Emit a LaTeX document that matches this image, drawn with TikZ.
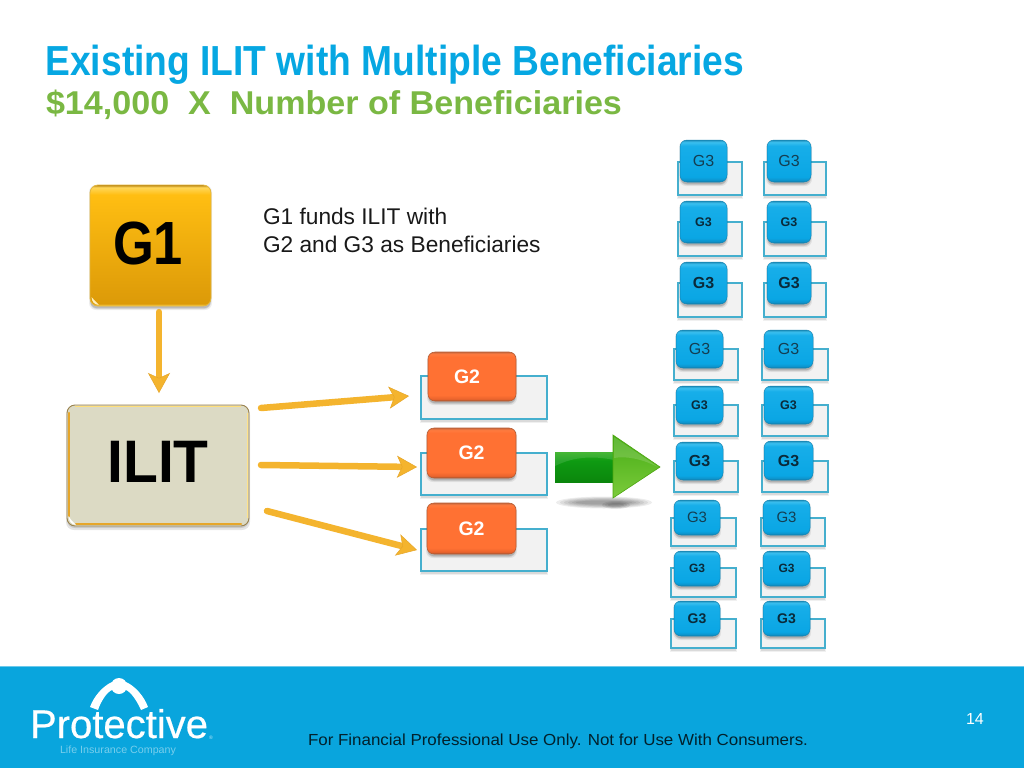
\documentclass[tikz,border=0pt]{standalone}
\usepackage{fontspec}
\setmainfont{Liberation Sans}
\newfontfamily\logofont[FakeBold=0.5]{Liberation Sans}
\usetikzlibrary{arrows.meta,calc,fit}
\definecolor{titleblue}{HTML}{06A7E2}
\definecolor{subgreen}{HTML}{7AB843}
\definecolor{band}{HTML}{09A5DD}
\definecolor{cardedge}{HTML}{45AFCE}
\definecolor{goldshaft}{HTML}{F4B42E}
\definecolor{goldedge}{HTML}{E6A62A}
\definecolor{gthreetext}{HTML}{143E52}
\definecolor{gthreebold}{HTML}{0A2A3A}
\definecolor{ilitfill}{HTML}{DCDAC4}
\definecolor{bd1}{HTML}{1678A2}\definecolor{bd2}{HTML}{0D93CB}\definecolor{bd3}{HTML}{0AA6E4}
\definecolor{bd4}{HTML}{17AEE9}\definecolor{bd5}{HTML}{3CC0F0}\definecolor{bd6}{HTML}{1D8DB8}
\pgfdeclareverticalshading{blueglass}{100bp}{color(0bp)=(bd1); color(25bp)=(bd1); color(27bp)=(bd2);
  color(31bp)=(bd3); color(68bp)=(bd4); color(72.5bp)=(bd5); color(75bp)=(bd6); color(100bp)=(bd6)}
\definecolor{or1}{HTML}{9C5433}\definecolor{or2}{HTML}{E9632C}\definecolor{or3}{HTML}{FF7133}
\definecolor{or4}{HTML}{FF7B3F}\definecolor{or5}{HTML}{C8693F}
\pgfdeclareverticalshading{orangeglass}{100bp}{color(0bp)=(or1); color(25bp)=(or1); color(27bp)=(or2);
  color(31bp)=(or3); color(70bp)=(or3); color(73bp)=(or4); color(75bp)=(or5); color(100bp)=(or5)}
\definecolor{go1}{HTML}{B98412}\definecolor{go2}{HTML}{DC9A08}\definecolor{go3}{HTML}{FFBE12}
\definecolor{go4}{HTML}{FFD75A}
\pgfdeclareverticalshading{goldglass}{100bp}{color(0bp)=(go4); color(25bp)=(go4); color(26bp)=(go2);
  color(71bp)=(go3); color(74bp)=(go4); color(75bp)=(go1); color(100bp)=(go1)}
\definecolor{gr1}{HTML}{0B860C}\definecolor{gr2}{HTML}{0E9A12}\definecolor{gr3}{HTML}{2CAD1A}
\pgfdeclareverticalshading{greenshaft}{100bp}{color(0bp)=(gr1); color(25bp)=(gr1); color(60bp)=(gr2);
  color(75bp)=(gr3); color(100bp)=(gr3)}
\definecolor{hd1}{HTML}{45AC14}\definecolor{hd2}{HTML}{7CCB3C}\definecolor{hd3}{HTML}{4DA60F}
\tikzset{
  x=1pt,y=-1pt,
  every node/.style={inner sep=0pt,outer sep=0pt},
  cardrect/.style={draw=cardedge,line width=1.1pt,fill=white!95!black},
  bluebox/.style={rounded corners=7pt,shading=blueglass,draw=bd1!70!bd3,line width=.5pt},
  orangebox/.style={rounded corners=7pt,shading=orangeglass,draw=or1!70!or3,line width=.6pt},
  goldbox/.style={rounded corners=8pt,shading=goldglass,draw=go4!60!go1,line width=.8pt},
  ilitbox/.style={rounded corners=8pt,fill=ilitfill,draw=go1!45!gray,line width=.9pt},
  goldarrow/.style={draw=goldshaft,line width=6.5pt,line cap=round,
    -{Stealth[length=20pt,width=22pt,inset=5pt,fill=goldshaft,color=goldedge,line width=.5pt]}},
  plaintext/.style={anchor=base west,align=left},
  bigtext/.style={text=black},
}
\newcommand{\softshadow}[2]{%
  \fill[black,opacity=.07,rounded corners=7pt] ($#1+(-1,0)$) rectangle ($#2+(1,4)$);
  \fill[black,opacity=.10,rounded corners=7pt] ($#1+(0,1)$) rectangle ($#2+(0,3)$);
  \fill[black,opacity=.12,rounded corners=6pt] ($#1+(.5,1)$) rectangle ($#2+(-.5,2)$);
}
% name, box style, text style and font, text, box corners, card corners
\newcommand{\cardbox}[8]{%
  \fill[black,opacity=.06] ($#7+(-1,1)$) rectangle ($#8+(1,4)$);
  \fill[black,opacity=.09] ($#7+(0,1)$) rectangle ($#8+(0,2.5)$);
  \draw[cardrect] #7 rectangle #8;
  \softshadow{#5}{#6}
  \node[fit={#5 #6},#2] (#1) {};
  \node[#3] (#1t) at (#1.center) {#4};
}
\tikzset{
  rfont/.style={text=gthreetext,font=\fontsize{16}{16}\selectfont},
  sfontb/.style={text=gthreebold,font=\fontsize{12.5}{13}\bfseries\selectfont},
  lfontb/.style={text=gthreebold,font=\fontsize{16}{16}\bfseries\selectfont},
  rrfont/.style={text=gthreetext,font=\fontsize{15}{15}\selectfont},
  ssfontb/.style={text=gthreebold,font=\fontsize{12}{12}\bfseries\selectfont},
  llfontb/.style={text=gthreebold,font=\fontsize{14}{14}\bfseries\selectfont},
  gtwofont/.style={text=white,font=\fontsize{19.5}{20}\bfseries\selectfont},
  gtwofontl/.style={gtwofont,xshift=-5pt},
}
\begin{document}
\begin{tikzpicture}
\useasboundingbox (0,0) rectangle (1024,768);
\fill[white] (0,0) rectangle (1024,768);

% title
\node[plaintext,text=titleblue] (title) at (45.5,75) {\resizebox{698.5pt}{\height}{\fontsize{42}{42}\bfseries\selectfont Existing ILIT with Multiple Beneficiaries}};
\node[plaintext,text=subgreen] (subtitle) at (46,114) {\resizebox{576pt}{\height}{\fontsize{33}{33}\bfseries\selectfont \$14,000\ \ X\ \ Number of Beneficiaries}};

% footer band
\fill[band] (0,666) rectangle (1024,768);
\fill[band!60!white] (0,665.5) rectangle (1024,667);

% G1 and ILIT
\softshadow{(90,185)}{(211,306)}
\node[fit={(90,185) (211,306)},goldbox] (g1) {};
\fill[white!60!go4] (91.5,297) .. controls (92,302) and (94,304.5) .. (99,305) .. controls (95,301) and (94,300) .. (91.5,297) -- cycle;
\node[bigtext] (g1t) at (148,243) {\scalebox{.86}[1]{\fontsize{61}{61}\bfseries\selectfont G1}};
\fill[black,opacity=.10,rounded corners=8pt] (66,407) rectangle (250,530);
\fill[black,opacity=.12,rounded corners=8pt] (67,408) rectangle (249,528);
\node[fit={(67,405) (249,526)},ilitbox] (ilit) {};
\draw[go4!80!white,line width=1.4pt] (75,406.5) -- (241,406.5);
\draw[goldedge,line width=2.4pt,line cap=round] (69,413) -- (69,516);
\draw[goldedge,line width=2.6pt,line cap=round] (76,524) -- (241,524);
\draw[go4!70!white,line width=1.2pt] (247.5,413) -- (247.5,518);
\fill[white] (68.5,516) .. controls (69,521) and (71,524.5) .. (76,525) .. controls (72,521) and (71,520) .. (68.5,516) -- cycle;
\node[bigtext] (ilitt) at (158,462) {\scalebox{.95}[1]{\fontsize{60}{60}\bfseries\selectfont ILIT}};

\node[plaintext,text=black!90] (note1) at (263,224) {\fontsize{22.7}{23}\selectfont G1 funds ILIT with};
\node[plaintext,text=black!90] (note2) at (263,252) {\fontsize{22.7}{23}\selectfont G2 and G3 as Beneficiaries};

% G2
\cardbox{g2a}{orangebox}{gtwofontl}{G2}{(428,352)}{(516,401)}{(421,376)}{(547,419)}
\cardbox{g2b}{orangebox}{gtwofont}{G2}{(427,428)}{(516,478)}{(421,453)}{(547,495)}
\cardbox{g2c}{orangebox}{gtwofont}{G2}{(427,503)}{(516,554)}{(421,529)}{(547,571)}

% connectors
\coordinate (ga) at ($(g1.south)+(8.5,6)$);
\coordinate (gb) at ($(ilit.north)+(1,-12)$);
\coordinate (s1) at ($(ilit.east)+(12,-57.5)$);
\coordinate (t1) at ($(g2a.west)+(-19,19.5)$);
\coordinate (s2) at ($(ilit.east)+(12,-.5)$);
\coordinate (t2) at ($(g2b.west)+(-10,14)$);
\coordinate (s3) at ($(ilit.east)+(18,45.5)$);
\coordinate (t3) at ($(g2c.west)+(-10,21.5)$);
\draw[goldarrow] (ga) -- (gb);
\draw[goldarrow] (s1) -- (t1);
\draw[goldarrow] (s2) -- (t2);
\draw[goldarrow] (s3) -- (t3);

% green arrow
\foreach \g in {0,1,2,3,4,5}{
  \fill[black,opacity=.07] (604,502.5) ellipse[x radius=48-\g*4,y radius=6-\g*.8];
}
\foreach \g in {0,1,2}{
  \fill[black,opacity=.08] (616,505) ellipse[x radius=14-\g*3,y radius=4-\g];
}
\shade[shading=greenshaft] (555,452) rectangle (614,482);
\fill[white,opacity=.12] (555,466) .. controls (575,456) and (595,456) .. (614,460) -- (614,452) -- (555,452) -- cycle;
\shade[left color=hd1,right color=hd2,shading angle=0,draw=hd3,line width=.6pt]
  (613,435) -- (660,467) -- (613,498) -- (613,482) -- (613,452) -- cycle;
\fill[white,opacity=.15] (614,437) -- (658,467) .. controls (640,458) and (625,456) .. (614,458) -- cycle;

% G3 upper block
\cardbox{c11}{bluebox}{rfont}{G3}{(680,140)}{(727,182)}{(678,162)}{(742,195)}
\cardbox{c12}{bluebox}{rfont}{G3}{(767,140)}{(811,182)}{(764,162)}{(826,195)}
\cardbox{c21}{bluebox}{sfontb}{G3}{(680,201)}{(727,243)}{(678,222)}{(742,256)}
\cardbox{c22}{bluebox}{sfontb}{G3}{(767,201)}{(811,243)}{(764,222)}{(826,256)}
\cardbox{c31}{bluebox}{lfontb}{G3}{(680,262)}{(727,304)}{(678,283)}{(742,317)}
\cardbox{c32}{bluebox}{lfontb}{G3}{(767,262)}{(811,304)}{(764,283)}{(826,317)}
% G3 middle block
\cardbox{d11}{bluebox}{rfont}{G3}{(676,330)}{(723,368)}{(674,349)}{(738,380)}
\cardbox{d12}{bluebox}{rfont}{G3}{(764,330)}{(813,368)}{(762,349)}{(828,380)}
\cardbox{d21}{bluebox}{sfontb}{G3}{(676,386)}{(723,424)}{(674,405)}{(738,436)}
\cardbox{d22}{bluebox}{sfontb}{G3}{(764,386)}{(813,424)}{(762,405)}{(828,436)}
\cardbox{d31}{bluebox}{lfontb}{G3}{(676,442)}{(723,480)}{(674,461)}{(738,492)}
\cardbox{d32}{bluebox}{lfontb}{G3}{(764,441)}{(813,480)}{(762,461)}{(828,492)}
% G3 lower block
\cardbox{e11}{bluebox}{rrfont}{G3}{(674,500)}{(720,535)}{(671,518)}{(736,546)}
\cardbox{e12}{bluebox}{rrfont}{G3}{(763,500)}{(810,535)}{(761,518)}{(825,546)}
\cardbox{e21}{bluebox}{ssfontb}{G3}{(674,551)}{(720,586)}{(671,568)}{(736,597)}
\cardbox{e22}{bluebox}{ssfontb}{G3}{(763,551)}{(810,586)}{(761,568)}{(825,597)}
\cardbox{e31}{bluebox}{llfontb}{G3}{(674,601)}{(720,636)}{(671,619)}{(736,648)}
\cardbox{e32}{bluebox}{llfontb}{G3}{(763,601)}{(810,636)}{(761,619)}{(825,648)}

% logo
\fill[white] (90,707) .. controls (94,696) and (103,686) .. (112,682) -- (112,690) .. controls (107,692) and (101,701) .. (98,710) -- cycle;
\fill[white] (148,707) .. controls (144,696) and (135,686) .. (126,682) -- (126,690) .. controls (131,692) and (137,701) .. (141,710) -- cycle;
\fill[white] (119,686) circle[radius=8];
\node[plaintext,text=white] (logo) at (30,738) {\resizebox{178pt}{\height}{\logofont\fontsize{40}{40}\selectfont Protective}};
\node[plaintext,text=white!75!band] (logoreg) at (209,739) {\fontsize{5}{5}\selectfont ®};
\node[plaintext,text=white!45!band] (logosub) at (60,753.5) {\resizebox{116pt}{\height}{\fontsize{10.5}{11}\selectfont Life Insurance Company}};

% footer text
\node[plaintext,text=black!80!band] (foot) at (308,745) {\resizebox{500pt}{\height}{\fontsize{16}{16}\selectfont For Financial Professional Use Only. Not for Use With Consumers.}};
\node[plaintext,text=white] (page) at (966,724) {\fontsize{16}{16}\selectfont 14};
\end{tikzpicture}
\end{document}
